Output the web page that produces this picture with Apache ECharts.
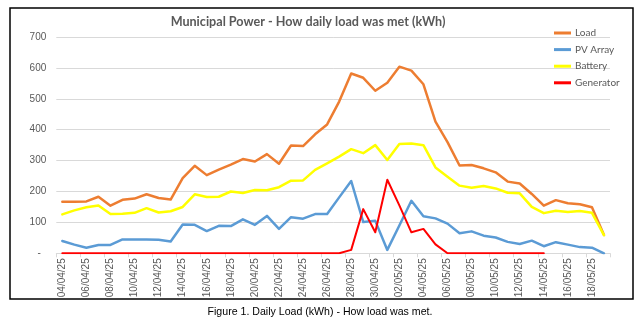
<!DOCTYPE html>
<html>
<head>
<meta charset="utf-8">
<script src="https://cdn.jsdelivr.net/npm/echarts@6/dist/echarts.min.js"></script>
<style>
html,body{margin:0;padding:0;background:#fff;}
#chart{width:642px;height:327px;}
</style>
</head>
<body>
<div id="chart"></div>
<script>
const categories = ["04/04/25","05/04/25","06/04/25","07/04/25","08/04/25","09/04/25","10/04/25","11/04/25","12/04/25","13/04/25",
"14/04/25","15/04/25","16/04/25","17/04/25","18/04/25","19/04/25","20/04/25","21/04/25","22/04/25","23/04/25",
"24/04/25","25/04/25","26/04/25","27/04/25","28/04/25","29/04/25","30/04/25","01/05/25","02/05/25","03/05/25",
"04/05/25","05/05/25","06/05/25","07/05/25","08/05/25","09/05/25","10/05/25","11/05/25","12/05/25","13/05/25",
"14/05/25","15/05/25","16/05/25","17/05/25","18/05/25","19/05/25"];

const load = [167,167,168,183,154,173,177,191,179,174,243,283,253,271,287,305,297,321,290,349,347,385,417,491,582,568,526,552,604,591,547,426,360,284,286,275,262,232,226,192,154,172,162,159,149,59];
const pvArray = [40,28,18,27,27,45,45,45,44,38,93,92,72,89,88,110,92,121,79,117,112,127,127,181,234,101,105,11,90,170,120,113,96,65,71,57,51,37,30,41,23,36,28,20,18,0];
const battery = [126,139,149,155,127,128,131,146,132,136,150,191,182,183,200,195,205,204,214,235,236,270,291,313,337,324,350,302,354,355,350,278,248,219,212,218,210,196,194,150,130,138,134,137,131,59];
const generator = [0,0,0,0,0,0,0,0,0,0,0,0,0,0,0,0,0,0,0,0,0,0,0,0,11,143,68,238,155,68,79,29,0,0,0,0,0,0,0,0,0,null,null,null,null,null];

const yTicks = {min: 0, max: 700, interval: 100};
const titleText = "Municipal Power - How daily load was met (kWh)";
const captionText = "Figure 1. Daily Load (kWh) - How load was met.";

const chart = echarts.init(document.getElementById('chart'), null, {renderer: 'canvas'});
const gray = '#595959';
function line(name, data, color, width) {
  return {name, type: 'line', data, symbol: 'none', connectNulls: false,
    lineStyle: {color, width, cap: 'round', join: 'round'}, itemStyle: {color}, animation: false};
}
chart.setOption({
  animation: false,
  backgroundColor: '#fff',
  grid: {left: 56.3, right: 32, top: 37, bottom: 73.7},
  legend: {
    orient: 'vertical', left: 549, top: 22, icon: 'rect', itemWidth: 17, itemHeight: 3, itemGap: 4.6,
    textStyle: {color: gray, fontSize: 10, fontFamily: 'Lato', lineHeight: 12, padding: [0,0,0,-1]},
    data: ['Load','PV Array','Battery','Generator']
  },
  xAxis: {
    type: 'category', data: categories, boundaryGap: true,
    axisLine: {lineStyle: {color: '#d9d9d9', width: 1}},
    axisTick: {show: true, interval: 1, length: 4, lineStyle: {color: '#d9d9d9'}},
    axisLabel: {interval: 1, rotate: 90, margin: 5, color: gray, fontSize: 10, fontFamily: 'Liberation Sans'}
  },
  yAxis: {
    type: 'value', min: yTicks.min, max: yTicks.max, interval: yTicks.interval,
    axisLine: {show: false}, axisTick: {show: false},
    splitLine: {lineStyle: {color: '#d9d9d9', width: 1}},
    axisLabel: {color: gray, fontSize: 10, fontFamily: 'Liberation Sans', margin: 10,
      formatter: v => v === 0 ? '-  ' : String(v)}
  },
  series: [
    line('Load', load, '#ED7D31', 2.5),
    line('PV Array', pvArray, '#5B9BD5', 2.5),
    line('Battery', battery, '#FFFF00', 2.5),
    line('Generator', generator, '#FF0000', 2)
  ],
  graphic: [
    {type: 'rect', shape: {x: 10, y: 8, width: 623, height: 291}, silent: true, z: 100,
      style: {fill: 'none', stroke: '#000', lineWidth: 1.5}},
    {type: 'text', x: 308, y: 22, silent: true, z: 100,
      style: {text: titleText, fill: gray, font: 'bold 12.6px Lato', textAlign: 'center', textVerticalAlign: 'middle'}},
    {type: 'text', x: 320, y: 312, silent: true, z: 100,
      style: {text: captionText, fill: '#000', font: '10.6px "Liberation Sans"', textAlign: 'center', textVerticalAlign: 'middle'}}
  ]
});
</script>
</body>
</html>
